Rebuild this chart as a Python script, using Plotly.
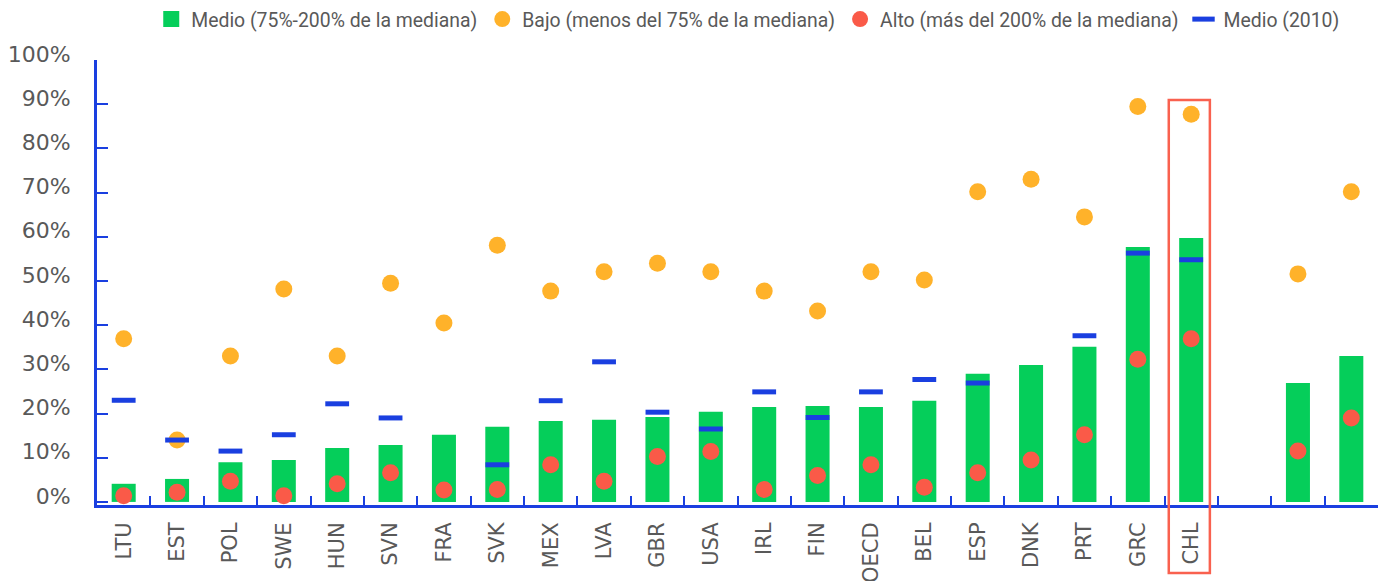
import plotly.graph_objects as go

categories = ["LTU", "EST", "POL", "SWE", "HUN", "SVN", "FRA", "SVK", "MEX", "LVA",
              "GBR", "USA", "IRL", "FIN", "OECD", "BEL", "ESP", "DNK", "PRT", "GRC",
              "CHL", "", "", ""]

medio = [4.1, 5.2, 9.0, 9.5, 12.2, 12.9, 15.2, 17.0, 18.3, 18.6,
         19.2, 20.4, 21.5, 21.7, 21.5, 22.9, 29.0, 31.0, 35.1, 57.7,
         59.7, None, 26.9, 33.0]
bajo = [36.9, 14.0, 33.0, 48.2, 33.0, 49.5, 40.5, 58.1, 47.7, 52.1,
        54.0, 52.1, 47.7, 43.2, 52.1, 50.2, 70.2, 73.0, 64.5, 89.5,
        87.7, None, 51.6, 70.2]
alto = [1.4, 2.2, 4.7, 1.4, 4.1, 6.6, 2.7, 2.8, 8.4, 4.7,
        10.3, 11.4, 2.8, 6.0, 8.4, 3.3, 6.6, 9.5, 15.2, 32.3,
        36.9, None, 11.5, 19.0]
medio_2010 = [23.0, 14.0, 11.5, 15.2, 22.2, 19.0, None, 8.4, 22.9, 31.7,
              20.3, 16.5, 24.9, 19.1, 24.9, 27.7, 26.9, None, 37.6, 56.3,
              54.8, None, None, None]

highlight = "CHL"

GREEN = "#05CE5A"
ORANGE = "#FFB22A"
RED = "#FA5A48"
BLUE = "#1A3FE0"
GRAY = "#595959"
TICK_FONT = "DejaVu Sans, sans-serif"

ids = [f"c{i}" for i in range(len(categories))]

def frac(v):
    return [None if x is None else x / 100 for x in v]

fig = go.Figure()
fig.add_trace(go.Bar(x=ids, y=frac(medio), name="Medio (75%-200% de la mediana)",
                     marker=dict(color=GREEN, line_width=0), width=0.45,
                     showlegend=False, legendgroup="medio"))
# legend entry with a larger square swatch for the bar series
fig.add_trace(go.Scatter(x=[None], y=[None], mode="markers",
                         name="Medio (75%-200% de la mediana)", legendgroup="medio",
                         marker=dict(symbol="square", color=GREEN, size=17, line_width=0)))
fig.add_trace(go.Scatter(x=ids, y=frac(bajo), mode="markers",
                         name="Bajo (menos del 75% de la mediana)",
                         marker=dict(color=ORANGE, size=17, line_width=0)))
fig.add_trace(go.Scatter(x=ids, y=frac(alto), mode="markers",
                         name="Alto (más del 200% de la mediana)",
                         marker=dict(color=RED, size=17, line_width=0)))
fig.add_trace(go.Scatter(x=ids, y=frac(medio_2010), mode="markers",
                         name="Medio (2010)",
                         marker=dict(symbol="line-ew", size=17,
                                     line=dict(color=BLUE, width=5))))

hi = categories.index(highlight)
fig.add_shape(type="rect", xref="x", yref="paper",
              x0=hi - 0.42, x1=hi + 0.35, y0=-0.153, y1=0.91,
              line=dict(color="#F9614F", width=2.5), fillcolor="rgba(0,0,0,0)",
              layer="above")

fig.update_layout(
    width=1387, height=581,
    margin=dict(l=97, r=9, t=60, b=76, autoexpand=False),
    paper_bgcolor="white", plot_bgcolor="white",
    showlegend=True,
    legend=dict(orientation="h", x=0.508, xanchor="center", y=1.0, yanchor="top",
                yref="container",
                font=dict(family="Roboto, sans-serif", size=19.4, color=GRAY),
                itemwidth=30, tracegroupgap=0),
    bargap=0.55,
    font=dict(family=TICK_FONT, color=GRAY),
)

fig.update_xaxes(
    type="category", tickmode="array", tickvals=ids, ticktext=categories,
    tickson="boundaries", ticks="inside", ticklen=9, tickwidth=2, tickcolor=BLUE,
    showline=True, linecolor=BLUE, linewidth=3, showgrid=False, zeroline=False,
    tickangle=-90, tickfont=dict(family=TICK_FONT, size=21, color=GRAY),
    range=[-0.5, len(categories) - 0.5], automargin=False, ticklabelstandoff=6,
)
fig.update_yaxes(
    range=[-0.007, 1.0], tickvals=[i / 10 for i in range(11)], tickformat=".0%",
    ticks="inside", ticklen=11, tickwidth=2, tickcolor=BLUE,
    showline=True, linecolor=BLUE, linewidth=3, showgrid=False, zeroline=False,
    tickfont=dict(family=TICK_FONT, size=22, color=GRAY),
    ticklabelstandoff=19, ticklabelshift=-6, automargin=False,
)

fig.write_html("out.html", config={"displayModeBar": False},
               post_script="document.body.style.margin='0';")
